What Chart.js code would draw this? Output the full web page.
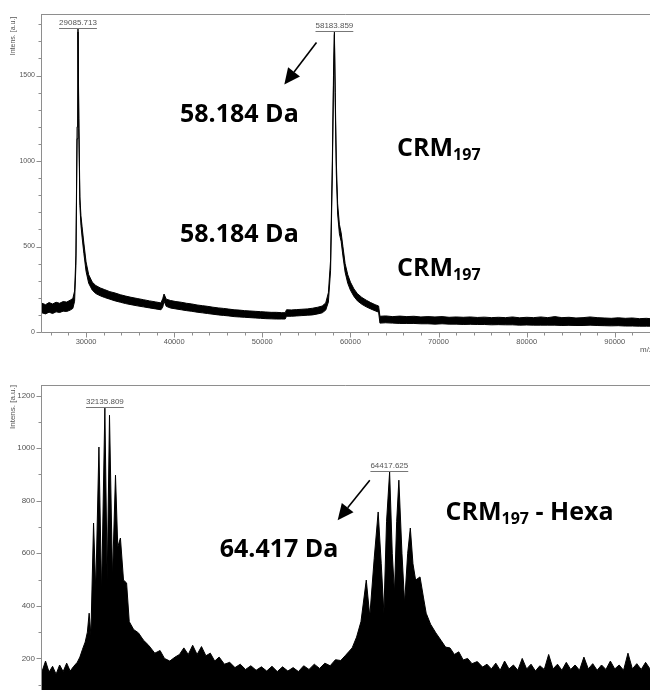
<!DOCTYPE html>
<html><head><meta charset="utf-8">
<script src="https://cdn.jsdelivr.net/npm/chart.js@4.4.0/dist/chart.umd.min.js"></script>
<style>
html,body{margin:0;padding:0;background:#fff;width:650px;height:690px;overflow:hidden;position:relative;}
#c1{position:absolute;left:0;top:0;}
#c2{position:absolute;left:0;top:370px;}
</style></head><body>
<canvas id="c1" width="650" height="370"></canvas>
<canvas id="c2" width="650" height="379"></canvas>
<script>
// ---------- shared axis data ----------
const xMin = 25000, xMax = 94000;
const xTicks = [26000,28000,30000,32000,34000,36000,38000,40000,42000,44000,46000,48000,50000,52000,54000,56000,58000,60000,62000,64000,66000,68000,70000,72000,74000,76000,78000,80000,82000,84000,86000,88000,90000,92000];
const xLabels = [30000, 40000, 50000, 60000, 70000, 80000, 90000];

// ---------- top spectrum (CRM197) ----------
const topYLabels = [0, 500, 1000, 1500];
const topMz = [25000,25400,25800,26200,26600,27000,27400,27800,28200,28500,28700,28850,28980,29085,29180,29300,29420,29550,29750,30000,30300,30700,31100,31600,32100,32700,33300,33900,34500,35100,35800,36500,37200,37900,38500,38700,38850,39100,39600,40200,40800,41400,42000,42600,43200,43800,44400,45000,45600,46200,46800,47400,48000,48600,49200,49800,50400,51000,51600,52200,52600,52750,53300,53900,54500,55100,55700,56300,56800,57200,57500,57750,57950,58080,58183,58280,58400,58550,58750,58950,59150,59400,59700,60000,60400,60800,61300,61800,62300,62800,63200,63350,64000,64800,65600,66400,67200,68000,68800,69600,70400,71200,72000,72800,73600,74400,75200,76000,76800,77600,78400,79200,80000,80800,81600,82400,83200,84000,84800,85600,86400,87200,88000,88800,89600,90400,91200,92000,92800,93600,94000];
const topHi = [168,160,172,164,174,168,178,175,186,196,240,450,1200,1772,1250,790,680,615,520,410,335,292,272,258,248,236,228,218,210,203,196,189,182,176,170,195,222,192,184,178,174,168,164,158,154,150,145,141,138,134,130,128,125,123,121,119,117,115,115,113,113,130,129,131,133,135,139,145,152,170,230,420,1000,1500,1754,1400,1000,750,630,580,500,400,335,292,252,224,202,186,172,160,152,92,94,90,93,90,92,88,90,88,90,86,88,86,88,85,87,84,86,84,88,83,86,84,88,84,90,84,86,82,84,88,84,82,80,83,80,82,78,80,78];
const topLo = [112,106,116,108,118,114,122,120,128,138,180,390,1130,1755,1190,740,625,555,460,355,285,245,225,212,202,192,182,174,166,160,153,147,141,135,130,145,180,150,140,135,130,125,121,116,112,108,104,100,97,94,90,88,86,84,82,80,78,77,76,76,76,92,92,94,96,98,100,106,112,128,175,360,930,1440,1740,1340,930,690,575,530,445,350,285,245,208,182,162,147,135,124,116,52,54,52,50,50,50,48,48,46,48,46,46,44,45,44,44,42,43,42,42,40,41,40,40,40,40,38,39,38,38,40,38,37,36,37,35,35,34,34,34];
const topPeaks = [29085.713, 58183.859];
const topPeakInt = [1772, 1754];

// ---------- bottom spectrum (CRM197 - Hexa) ----------
const botYLabels = [200, 400, 600, 800, 1000, 1200];
const botMz = [25000,25400,25800,26200,26600,27000,27400,27800,28200,28600,29000,29300,29600,29900,30150,30350,30550,30850,31100,31460,31760,32135,32400,32660,33000,33340,33600,33900,34250,34600,34900,35400,35950,36500,37100,37800,38400,38900,39500,40100,40600,41100,41600,42100,42600,43100,43600,44100,44600,45100,45700,46300,46900,47500,48100,48700,49300,49900,50500,51100,51700,52300,52900,53500,54100,54700,55300,55900,56500,57100,57700,58300,58900,59400,59800,60200,60700,61200,61800,62200,62700,63150,63500,63800,64100,64450,64750,65000,65250,65500,65850,66150,66500,66800,67100,67400,67900,68300,68600,69100,69700,70300,70800,71300,71800,72300,72800,73300,73800,74400,75000,75500,76000,76500,77000,77500,78000,78500,79000,79500,80000,80500,81000,81500,82000,82500,83000,83500,84000,84500,85000,85500,86000,86500,87000,87500,88000,88500,89000,89500,90000,90500,91000,91500,92000,92500,93000,93500,94000];
const botHi = [150,190,148,170,140,175,150,182,152,170,185,205,235,262,300,372,290,715,460,1004,449,1152,498,1125,510,897,624,658,498,487,340,310,297,270,250,220,230,200,190,205,215,240,215,250,215,245,210,220,190,205,178,185,165,178,158,172,155,168,152,170,150,168,152,165,150,172,158,178,162,182,172,195,192,210,225,240,281,340,498,360,580,757,560,372,720,909,600,449,720,878,600,410,600,696,560,498,510,430,372,330,297,268,243,240,215,225,194,200,180,188,167,178,160,182,155,190,160,175,155,200,160,178,152,172,158,215,160,178,155,185,158,175,155,205,160,180,155,175,158,190,160,175,155,220,160,180,158,185,160];
const botLo = [50,55,50,55,50,55,55,60,55,60,62,64,66,68,70,70,70,70,70,70,70,70,70,70,70,70,70,70,70,70,70,70,70,70,70,70,70,70,70,70,70,70,70,70,70,70,70,70,70,70,70,70,70,70,70,70,70,70,70,70,70,70,70,70,70,70,70,70,70,70,70,70,70,70,70,70,70,70,70,70,70,70,70,70,70,70,70,70,70,70,70,70,70,70,70,70,70,70,70,70,70,70,70,70,70,70,70,70,70,70,70,70,70,70,70,70,70,70,70,70,70,70,70,70,70,70,70,70,70,70,70,70,70,70,70,70,70,70,70,70,70,70,70,70,70,70,70,70,70];
const botPeaks = [32135.809, 64417.625];
const botPeakInt = [1152, 909];

// ---------- annotations (data coordinates) ----------
const topNotes = [
  {text: '58.184 Da', mz: 47400, v: 1283},
  {text: '58.184 Da', mz: 47400, v: 580},
  {text: 'CRM', sub: '197', rest: '', mz: 65300, v: 1084},
  {text: 'CRM', sub: '197', rest: '', mz: 65300, v: 381}
];
const topArrows = [{from: [56150, 1693], to: [52500, 1447]}];
const botNotes = [
  {text: '64.417 Da', mz: 51900, v: 620},
  {text: 'CRM', sub: '197', rest: ' - Hexa', mz: 70800, v: 760}
];
const botArrows = [{from: [62200, 878], to: [58550, 726]}];

// ---------- drawing ----------
const AXIS = '#8e8e8e';
const TICKTXT = '#555';
const BIG = '"Open Sans", "Liberation Sans", sans-serif';
const SMALL = '"Liberation Sans", Arial, sans-serif';

function pts(xs, ys) { return xs.map((v, i) => ({x: v, y: ys[i]})); }

const decor = {
  id: 'decor',
  afterDraw(chart, args, o) {
    const {ctx, chartArea: ca, scales: {x, y}} = chart;
    ctx.save();
    ctx.strokeStyle = AXIS; ctx.lineWidth = 1;
    ctx.beginPath();
    ctx.moveTo(ca.left - 0.5, ca.top); ctx.lineTo(ca.left - 0.5, ca.bottom + 0.5);
    ctx.moveTo(ca.left - 0.5, ca.bottom + 0.5); ctx.lineTo(ca.right, ca.bottom + 0.5);
    ctx.moveTo(ca.left - 0.5, ca.top + 0.5); ctx.lineTo(ca.right, ca.top + 0.5);
    y.ticks.forEach(t => {
      const py = Math.round(y.getPixelForValue(t.value)) + 0.5;
      const len = o.yLabels.includes(t.value) ? 5 : 3;
      ctx.moveTo(ca.left - 0.5 - len, py); ctx.lineTo(ca.left - 0.5, py);
    });
    x.ticks.forEach(t => {
      const px = Math.round(x.getPixelForValue(t.value)) + 0.5;
      const len = xLabels.includes(t.value) ? 5 : 3;
      ctx.moveTo(px, ca.bottom + 0.5); ctx.lineTo(px, ca.bottom + 0.5 + len);
    });
    ctx.stroke();

    // y title
    ctx.fillStyle = TICKTXT;
    ctx.font = o.titleSize + 'px ' + SMALL;
    ctx.save();
    ctx.translate(13, ca.top + 22);
    ctx.rotate(-Math.PI / 2);
    ctx.textAlign = 'center'; ctx.textBaseline = 'middle';
    ctx.fillText('Intens. [a.u.]', 0, 0);
    ctx.restore();

    if (o.xTitle) {
      ctx.font = '8px ' + SMALL;
      ctx.textAlign = 'left'; ctx.textBaseline = 'middle';
      ctx.fillText('m/z', ca.right - 10, ca.bottom + 18);
    }

    ctx.font = '8px ' + SMALL;
    ctx.textAlign = 'center'; ctx.textBaseline = 'bottom';
    o.peaks.forEach((p, i) => {
      const px = x.getPixelForValue(p), py = y.getPixelForValue(o.peakInt[i]);
      const s = p.toFixed(3);
      const w = ctx.measureText(s).width;
      ctx.fillStyle = '#555';
      ctx.fillText(s, px, py - 2.5);
      ctx.beginPath(); ctx.strokeStyle = '#777';
      ctx.moveTo(px - w / 2, Math.round(py - 1.5) + 0.5); ctx.lineTo(px + w / 2, Math.round(py - 1.5) + 0.5);
      ctx.stroke();
    });

    ctx.strokeStyle = '#000'; ctx.fillStyle = '#000'; ctx.lineWidth = 1.6;
    o.arrows.forEach(a => {
      const x1 = x.getPixelForValue(a.from[0]), y1 = y.getPixelForValue(a.from[1]);
      const x2 = x.getPixelForValue(a.to[0]), y2 = y.getPixelForValue(a.to[1]);
      const ang = Math.atan2(y2 - y1, x2 - x1);
      const hl = 16, hw = 7.5;
      const bx = x2 - hl * Math.cos(ang), by = y2 - hl * Math.sin(ang);
      ctx.beginPath(); ctx.moveTo(x1, y1); ctx.lineTo(bx, by); ctx.stroke();
      ctx.beginPath();
      ctx.moveTo(x2, y2);
      ctx.lineTo(bx + hw * Math.sin(ang), by - hw * Math.cos(ang));
      ctx.lineTo(bx - hw * Math.sin(ang), by + hw * Math.cos(ang));
      ctx.closePath(); ctx.fill();
    });

    ctx.fillStyle = '#000';
    o.notes.forEach(n => {
      const px = x.getPixelForValue(n.mz), py = y.getPixelForValue(n.v);
      ctx.font = 'bold 25px ' + BIG;
      ctx.textBaseline = 'alphabetic';
      if (!n.sub) {
        ctx.textAlign = 'center';
        ctx.fillText(n.text, px, py + 9);
      } else {
        ctx.textAlign = 'left';
        ctx.fillText(n.text, px, py + 9);
        let cx = px + ctx.measureText(n.text).width;
        ctx.font = 'bold 16px ' + BIG;
        ctx.fillText(n.sub, cx, py + 13);
        cx += ctx.measureText(n.sub).width;
        ctx.font = 'bold 25px ' + BIG;
        if (n.rest) ctx.fillText(n.rest, cx, py + 9);
      }
    });
    ctx.restore();
  }
};

function makeChart(id, c) {
  return new Chart(document.getElementById(id), {
    type: 'line',
    data: {datasets: [
      {data: pts(c.mz, c.lo), borderColor: '#000', borderWidth: 1, pointRadius: 0, fill: false, tension: 0},
      {data: pts(c.mz, c.hi), borderColor: '#000', borderWidth: 1, pointRadius: 0, fill: '-1', backgroundColor: '#000', tension: 0}
    ]},
    options: {
      responsive: false, animation: false, devicePixelRatio: 1,
      layout: {padding: {top: c.padTop, left: 0, right: 0, bottom: 0}},
      plugins: {legend: {display: false}, tooltip: {enabled: false}, decor: c.decor},
      scales: {
        x: {
          type: 'linear', min: xMin, max: xMax,
          grid: {display: false, drawTicks: false}, border: {display: false},
          ticks: {autoSkip: false, maxRotation: 0, padding: 5, color: TICKTXT,
                  font: {family: 'Liberation Sans', size: 7.5},
                  callback: v => xLabels.includes(v) ? String(v) : ''},
          afterBuildTicks: s => { s.ticks = xTicks.map(v => ({value: v})); },
          afterFit: s => { s.height = 38; }
        },
        y: {
          min: 0, max: c.yMax,
          grid: {display: false, drawTicks: false}, border: {display: false},
          ticks: {stepSize: 100, autoSkip: false, padding: 7, color: TICKTXT,
                  font: {family: 'Liberation Sans', size: c.tickSize},
                  callback: v => c.yLabels.includes(v) ? String(v) : ''},
          afterBuildTicks: s => { s.ticks = s.ticks.filter(t => t.value % 100 === 0); },
          afterFit: s => { s.width = 42; }
        }
      }
    },
    plugins: [decor]
  });
}

makeChart('c1', {
  mz: topMz, hi: topHi, lo: topLo, yMax: 1860, padTop: 14, yLabels: topYLabels, tickSize: 7,
  decor: {yLabels: topYLabels, titleSize: 7, xTitle: true, peaks: topPeaks, peakInt: topPeakInt, arrows: topArrows, notes: topNotes}
});
makeChart('c2', {
  mz: botMz, hi: botHi, lo: botLo, yMax: 1240, padTop: 15, yLabels: botYLabels, tickSize: 8,
  decor: {yLabels: botYLabels, titleSize: 8, xTitle: false, peaks: botPeaks, peakInt: botPeakInt, arrows: botArrows, notes: botNotes}
});
</script></body></html>
